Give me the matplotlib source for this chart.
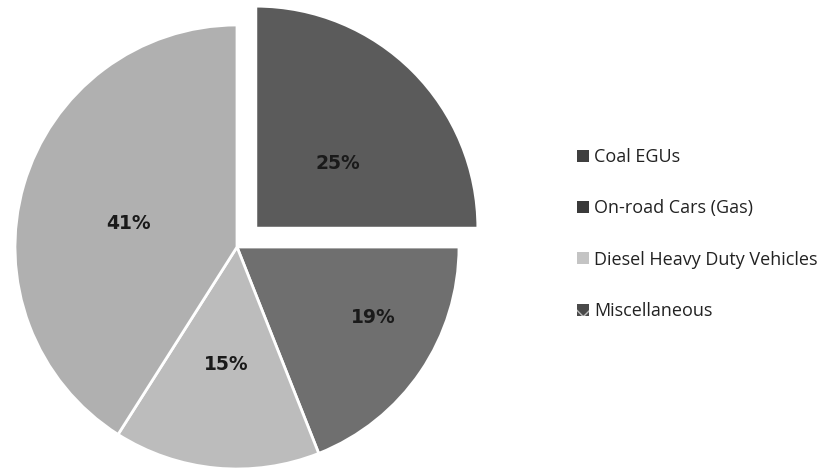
import numpy as np
import matplotlib
matplotlib.use("Agg")
import matplotlib.pyplot as plt
from matplotlib.patches import Patch

# emission shares by source (percent)
sources = ["Coal EGUs", "On-road Cars (Gas)", "Diesel Heavy Duty Vehicles", "Miscellaneous"]
shares = [25, 19, 15, 41]

wedge_colors = ["#5b5b5b", "#6f6f6f", "#bcbcbc", "#b0b0b0"]
legend_colors = ["#3f3f3f", "#3a3a3a", "#c4c4c4", "#4a4a4a"]
explode = [0.12, 0, 0, 0]
# label placement: radial fraction and angular nudge (deg) from the wedge middle
label_frac = [0.47, 0.69, 0.53, 0.50]
label_turn = [-7, 7, 0, 4]

W, H = 821, 470
cx, cy, r = 237, 247, 222  # pie centre and radius in pixels

plt.rcParams["hatch.linewidth"] = 1.0

fig = plt.figure(figsize=(W / 100, H / 100), dpi=100)
ax = fig.add_axes([0, 0, 1, 1])

wedges, _ = ax.pie(
    shares, colors=wedge_colors, startangle=90, counterclock=False,
    explode=explode, radius=1.0,
    wedgeprops=dict(edgecolor="white", linewidth=2.0),
)

for w, v, f, t in zip(wedges, shares, label_frac, label_turn):
    mid = np.deg2rad((w.theta1 + w.theta2) / 2 + t)
    x0, y0 = w.center
    ax.text(x0 + f * np.cos(mid), y0 + f * np.sin(mid), f"{v}%",
            ha="center", va="center", fontsize=13.5, fontweight="bold",
            color="#1a1a1a", family="DejaVu Sans")

ax.set_xlim(-cx / r, (W - cx) / r)
ax.set_ylim(-(H - cy) / r, cy / r)
ax.set_aspect("auto")
ax.axis("off")

handles = [Patch(facecolor=c, edgecolor="none") for c in legend_colors]
handles[3] = Patch(facecolor=legend_colors[3], edgecolor="#bdbdbd", hatch="x", linewidth=0)
leg = fig.legend(
    handles, sources, loc="upper left", bbox_to_anchor=(570 / W, 1 - 141 / H),
    frameon=False, handlelength=0.65, handleheight=0.65,
    handletextpad=0.3, labelspacing=1.84, borderaxespad=0,
    prop={"family": "Open Sans", "size": 13},
)
for t in leg.get_texts():
    t.set_color("#222222")

fig.savefig("out.png", dpi=100, facecolor="white")
